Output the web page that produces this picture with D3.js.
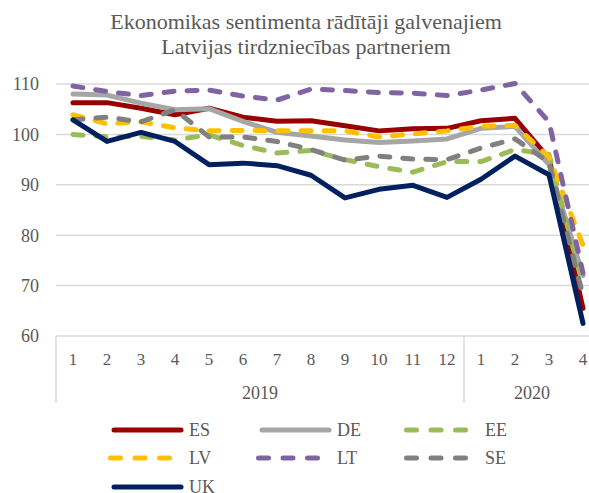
<!DOCTYPE html>
<html>

<head>
    <meta charset="utf-8">
    <script src="https://d3js.org/d3.v7.min.js" charset="utf-8"></script>
    <title>Ekonomikas sentimenta rādītāji</title>
    <style>
        html,
        body {
            margin: 0px;
            padding: 0px;
            background: #fff;
        }
    </style>
</head>

<body>
    <div id="chart"></div>

    <script>
        // data
        var years = ["2019", "2020"];
        var months = ["1", "2", "3", "4", "5", "6", "7", "8", "9", "10", "11", "12", "1", "2", "3", "4"];
        var monthYear = ["2019", "2019", "2019", "2019", "2019", "2019", "2019", "2019", "2019", "2019", "2019", "2019", "2020", "2020", "2020", "2020"];
        var yTicks = [60, 70, 80, 90, 100, 110];

        var ES = [106.3, 106.3, 105.2, 103.9, 105.2, 103.4, 102.6, 102.7, 101.7, 100.7, 101.1, 101.2, 102.7, 103.2, 95.2, 65.5];
        var DE = [108.0, 107.8, 106.2, 104.9, 105.1, 102.6, 100.4, 99.7, 98.9, 98.4, 98.7, 99.1, 101.2, 101.6, 94.0, 72.0];
        var EE = [100.0, 99.5, 99.6, 98.9, 99.9, 97.8, 96.3, 96.8, 95.0, 93.6, 92.5, 94.6, 94.6, 97.0, 96.0, 70.0];
        var LV = [103.9, 102.1, 102.5, 101.3, 100.7, 100.8, 100.7, 100.7, 100.7, 99.5, 100.1, 100.7, 101.6, 101.8, 95.5, 78.0];
        var LT = [109.6, 108.5, 107.7, 108.6, 108.8, 107.6, 106.8, 109.0, 108.7, 108.3, 108.2, 107.7, 108.8, 110.1, 102.5, 72.5];
        var SE = [102.9, 103.4, 102.5, 104.9, 99.5, 99.5, 98.6, 97.0, 94.9, 95.7, 95.1, 95.0, 97.3, 99.1, 94.5, 68.0];
        var UK = [102.9, 98.6, 100.4, 98.6, 94.0, 94.3, 93.8, 91.9, 87.4, 89.1, 89.9, 87.5, 91.1, 95.7, 92.0, 62.5];

        (function () {
            var series = [
                { name: "ES", values: ES, color: "#9b0000", dashed: false },
                { name: "DE", values: DE, color: "#a6a6a6", dashed: false },
                { name: "EE", values: EE, color: "#9bbb59", dashed: true },
                { name: "LV", values: LV, color: "#ffc000", dashed: true },
                { name: "LT", values: LT, color: "#8064a2", dashed: true },
                { name: "SE", values: SE, color: "#808080", dashed: true },
                { name: "UK", values: UK, color: "#002060", dashed: false }
            ];

            var font = "Liberation Serif, Times New Roman, DejaVu Serif, serif";
            var width = 589,
                height = 493,
                plotLeft = 56,
                band = 34,
                plotTop = 84,
                plotBottom = 336;

            var svg = d3.select("#chart").append("svg")
                .attr("width", width)
                .attr("height", height)
                .style("font-family", font);

            var idx = d3.range(months.length);

            var x = d3.scaleBand()
                .domain(idx)
                .range([plotLeft, plotLeft + band * months.length]);

            var y = d3.scaleLinear()
                .domain([60, 110])
                .range([plotBottom, plotTop]);

            // title
            var title = svg.append("text")
                .attr("text-anchor", "middle")
                .attr("fill", "#595959")
                .style("font-size", "22px");
            title.append("tspan").attr("x", 306).attr("y", 29).text("Ekonomikas sentimenta rādītāji galvenajiem");
            title.append("tspan").attr("x", 306).attr("y", 54).text("Latvijas tirdzniecības partneriem");

            // gridlines
            svg.append("g")
                .selectAll("line")
                .data(yTicks)
                .enter().append("line")
                .attr("x1", plotLeft)
                .attr("x2", width)
                .attr("y1", function (d) { return y(d); })
                .attr("y2", function (d) { return y(d); })
                .attr("stroke", "#d9d9d9")
                .attr("stroke-width", 1.5);

            svg.append("g")
                .selectAll("text")
                .data(yTicks)
                .enter().append("text")
                .attr("x", 39)
                .attr("y", function (d) { return y(d); })
                .attr("dy", "0.35em")
                .attr("text-anchor", "end")
                .attr("fill", "#595959")
                .style("font-size", "18px")
                .text(function (d) { return d; });

            // two-level category axis
            var firstOfYear = years.map(function (yr) { return monthYear.indexOf(yr); });
            svg.append("g")
                .selectAll("line")
                .data(firstOfYear)
                .enter().append("line")
                .attr("x1", function (i) { return x(i); })
                .attr("x2", function (i) { return x(i); })
                .attr("y1", plotBottom)
                .attr("y2", 403)
                .attr("stroke", "#d9d9d9")
                .attr("stroke-width", 1.5);

            svg.append("g")
                .selectAll("text")
                .data(idx)
                .enter().append("text")
                .attr("x", function (i) { return x(i) + x.bandwidth() / 2; })
                .attr("y", 365)
                .attr("text-anchor", "middle")
                .attr("fill", "#595959")
                .style("font-size", "17px")
                .text(function (i) { return months[i]; });

            svg.append("g")
                .selectAll("text")
                .data(years)
                .enter().append("text")
                .attr("x", function (yr) {
                    var ii = idx.filter(function (i) { return monthYear[i] === yr; });
                    return (x(ii[0]) + x(ii[ii.length - 1]) + x.bandwidth()) / 2;
                })
                .attr("y", 399)
                .attr("text-anchor", "middle")
                .attr("fill", "#595959")
                .style("font-size", "18px")
                .text(function (d) { return d; });

            // lines
            var line = d3.line()
                .x(function (d, i) { return x(i) + x.bandwidth() / 2; })
                .y(function (d) { return y(d); });

            svg.append("g")
                .selectAll("path")
                .data(series)
                .enter().append("path")
                .attr("d", function (s) { return line(s.values); })
                .attr("fill", "none")
                .attr("stroke", function (s) { return s.color; })
                .attr("stroke-width", 5)
                .attr("stroke-linejoin", "round")
                .attr("stroke-linecap", "round")
                .attr("stroke-dasharray", function (s) { return s.dashed ? "10,13" : null; });

            // legend
            var legend = svg.append("g")
                .selectAll("g")
                .data(series)
                .enter().append("g")
                .attr("transform", function (d, i) {
                    return "translate(" + (114 + (i % 3) * 148) + "," + [430, 458, 487][Math.floor(i / 3)] + ")";
                });

            legend.append("line")
                .attr("x1", 0)
                .attr("x2", 67)
                .attr("stroke", function (s) { return s.color; })
                .attr("stroke-width", 5)
                .attr("stroke-linecap", "round")
                .attr("stroke-dasharray", function (s) { return s.dashed ? "10,14.5" : null; })
                .attr("transform", function (s) { return s.dashed ? "translate(-3.5,0)" : null; });

            legend.append("text")
                .attr("x", 75)
                .attr("y", 6)
                .attr("fill", "#595959")
                .style("font-size", "18px")
                .text(function (s) { return s.name; });
        })();
    </script>
</body>

</html>
